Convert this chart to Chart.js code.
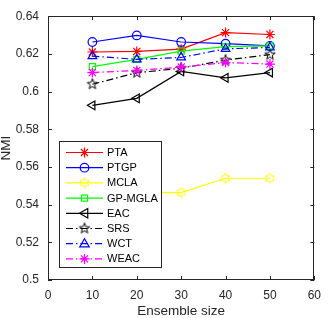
<!DOCTYPE html>
<html>
<head>
<meta charset="utf-8">
<script src="https://cdn.jsdelivr.net/npm/chart.js@4/dist/chart.umd.min.js"></script>
<style>
    html, body { margin: 0; padding: 0; background: #fff; }
</style>
</head>
<body>
<canvas id="myChart" width="329" height="318"></canvas>
<script>
// data
var sizes = [10, 20, 30, 40, 50];
var seriesNames = ["PTA", "PTGP", "MCLA", "GP-MGLA", "EAC", "SRS", "WCT", "WEAC"];
var pta    = [0.6210, 0.6213, 0.6225, 0.6313, 0.6303];
var ptgp   = [0.6263, 0.6298, 0.6263, 0.6254, 0.6242];
var mcla   = [0.5450, 0.5465, 0.5464, 0.5540, 0.5540];
var gpmgla = [0.6132, 0.6171, 0.6215, 0.6239, 0.6243];
var eac    = [0.5927, 0.5964, 0.6107, 0.6073, 0.6101];
var srs    = [0.6039, 0.6100, 0.6124, 0.6167, 0.6196];
var wct    = [0.6188, 0.6171, 0.6181, 0.6227, 0.6234];
var weac   = [0.6101, 0.6112, 0.6130, 0.6154, 0.6146];
var xTicks = [0, 10, 20, 30, 40, 50, 60];
var yTicks = [0.5, 0.52, 0.54, 0.56, 0.58, 0.6, 0.62, 0.64];

var axisColor = "#262626";
var fontFamily = "'Liberation Sans', Arial, sans-serif";
var dashDot = [7, 3, 1.5, 3];

// star shaped markers (pentagram / hexagram) as little canvases
function starImage(points, color, r) {
    var c = document.createElement("canvas");
    var s = Math.ceil(2 * r + 3);
    c.width = s;
    c.height = s;
    var g = c.getContext("2d");
    var inner = points == 5 ? r * 0.42 : r * 0.58;
    g.strokeStyle = color;
    g.lineWidth = 1;
    g.beginPath();
    for (var k = 0; k < 2 * points; k++) {
        var a = -Math.PI / 2 + k * Math.PI / points;
        var rad = (k % 2) ? inner : r;
        var px = s / 2 + rad * Math.cos(a);
        var py = s / 2 + rad * Math.sin(a);
        if (k == 0) g.moveTo(px, py); else g.lineTo(px, py);
    }
    g.closePath();
    g.stroke();
    return c;
}

var hexYellow = starImage(6, "#ffff00", 5);
var pentBlack = starImage(5, "#000000", 5.5);

var styles = [
    { color: "#ff0000", marker: "star", rot: 0, r: 5, dash: [] },
    { color: "#0000ff", marker: "circle", rot: 0, r: 4.3, dash: [] },
    { color: "#ffff00", marker: hexYellow, rot: 0, r: 5, dash: [] },
    { color: "#00ff00", marker: "rect", rot: 0, r: 4.3, dash: [] },
    { color: "#000000", marker: "triangle", rot: -90, r: 5, dash: [] },
    { color: "#000000", marker: pentBlack, rot: 0, r: 5, dash: dashDot },
    { color: "#0000ff", marker: "triangle", rot: 0, r: 5, dash: dashDot },
    { color: "#ff00ff", marker: "star", rot: 0, r: 5, dash: dashDot }
];
var allValues = [pta, ptgp, mcla, gpmgla, eac, srs, wct, weac];

var datasets = [];
for (var i = 0; i < allValues.length; i++) {
    var st = styles[i];
    datasets.push({
        label: seriesNames[i],
        data: sizes.map(function (x, j) { return { x: x, y: allValues[i][j] }; }),
        borderColor: st.color,
        backgroundColor: "rgba(0,0,0,0)",
        borderWidth: 1.2,
        borderDash: st.dash,
        pointStyle: st.marker,
        pointRotation: st.rot,
        pointRadius: st.r,
        pointBorderWidth: 1.2,
        pointBorderColor: st.color,
        pointBackgroundColor: "rgba(0,0,0,0)",
        tension: 0,
        order: allValues.length - i
    });
}

// draws one legend marker
function legendMarker(ctx, st, x, y) {
    ctx.save();
    ctx.strokeStyle = st.color;
    ctx.lineWidth = 1.2;
    ctx.setLineDash([]);
    var r = st.r;
    if (typeof st.marker != "string") {
        ctx.drawImage(st.marker, x - st.marker.width / 2, y - st.marker.height / 2);
    } else if (st.marker == "circle") {
        ctx.beginPath();
        ctx.arc(x, y, r, 0, Math.PI * 2);
        ctx.stroke();
    } else if (st.marker == "rect") {
        var h = r * Math.SQRT1_2;
        ctx.strokeRect(x - h, y - h, 2 * h, 2 * h);
    } else if (st.marker == "star") {
        ctx.beginPath();
        for (var k = 0; k < 4; k++) {
            var a = k * Math.PI / 4;
            ctx.moveTo(x - r * Math.cos(a), y - r * Math.sin(a));
            ctx.lineTo(x + r * Math.cos(a), y + r * Math.sin(a));
        }
        ctx.stroke();
    } else if (st.marker == "triangle") {
        ctx.translate(x, y);
        ctx.rotate(st.rot * Math.PI / 180);
        ctx.beginPath();
        ctx.moveTo(0, -r);
        ctx.lineTo(r * 0.95, r * 0.65);
        ctx.lineTo(-r * 0.95, r * 0.65);
        ctx.closePath();
        ctx.stroke();
    }
    ctx.restore();
}

var boxPlugin = {
    id: "matlabBox",
    afterDraw: function (chart) {
        var ctx = chart.ctx;
        var a = chart.chartArea;
        var xs = chart.scales.x;
        var ys = chart.scales.y;
        ctx.save();
        ctx.strokeStyle = axisColor;
        ctx.lineWidth = 1;
        ctx.strokeRect(Math.round(a.left) + 0.5, Math.round(a.top) + 0.5,
            Math.round(a.right - a.left) - 1, Math.round(a.bottom - a.top) - 1);
        ctx.beginPath();
        yTicks.forEach(function (v) {
            var py = Math.round(ys.getPixelForValue(v)) + 0.5;
            ctx.moveTo(a.left, py); ctx.lineTo(a.left + 4, py);
            ctx.moveTo(a.right, py); ctx.lineTo(a.right - 4, py);
        });
        xTicks.forEach(function (v) {
            var px = Math.round(xs.getPixelForValue(v)) + 0.5;
            ctx.moveTo(px, a.bottom); ctx.lineTo(px, a.bottom - 4);
            ctx.moveTo(px, a.top); ctx.lineTo(px, a.top + 4);
        });
        ctx.stroke();

        // legend
        var lx = 59.5, ly = 141.5, lw = 102, lh = 126;
        ctx.fillStyle = "#ffffff";
        ctx.fillRect(lx, ly, lw, lh);
        ctx.strokeStyle = axisColor;
        ctx.strokeRect(lx, ly, lw, lh);
        ctx.font = "11px " + fontFamily;
        ctx.textBaseline = "middle";
        for (var i = 0; i < seriesNames.length; i++) {
            var st = styles[i];
            var yy = 152.5 + i * 15.2;
            ctx.strokeStyle = st.color;
            ctx.lineWidth = 1.2;
            ctx.setLineDash(st.dash);
            ctx.beginPath();
            ctx.moveTo(66, yy);
            ctx.lineTo(103, yy);
            ctx.stroke();
            ctx.setLineDash([]);
            legendMarker(ctx, st, 84.5, yy);
            ctx.fillStyle = "#000000";
            ctx.fillText(seriesNames[i], 107, yy + 0.5);
        }
        ctx.restore();
    }
};

var fmt = function (v) { return String(Number(v.toFixed(2))); };

var myChart = new Chart(document.getElementById("myChart").getContext("2d"), {
    type: "line",
    data: { datasets: datasets },
    plugins: [boxPlugin],
    options: {
        responsive: false,
        animation: false,
        layout: { padding: { left: 0, top: 5, right: 7, bottom: 0 } },
        plugins: { legend: { display: false }, tooltip: { enabled: false } },
        scales: {
            x: {
                type: "linear",
                min: 0,
                max: 60,
                afterFit: function (s) { s.height = 38; },
                afterBuildTicks: function (s) { s.ticks = xTicks.map(function (v) { return { value: v }; }); },
                grid: { display: false, drawTicks: false },
                border: { display: false },
                ticks: {
                    autoSkip: false,
                    padding: 8,
                    color: axisColor,
                    font: { family: fontFamily, size: 12 },
                    callback: fmt
                },
                title: {
                    display: true,
                    text: "Ensemble size",
                    color: axisColor,
                    padding: { top: 0, bottom: 0 },
                    font: { family: fontFamily, size: 13.5, lineHeight: 1.0 }
                }
            },
            y: {
                type: "linear",
                min: 0.5,
                max: 0.64,
                afterFit: function (s) { s.width = 48; },
                afterBuildTicks: function (s) { s.ticks = yTicks.map(function (v) { return { value: v }; }); },
                grid: { display: false, drawTicks: false },
                border: { display: false },
                ticks: {
                    autoSkip: false,
                    padding: 9,
                    color: axisColor,
                    font: { family: fontFamily, size: 12 },
                    callback: fmt
                },
                title: {
                    display: true,
                    text: "NMI",
                    color: axisColor,
                    padding: { top: 0, bottom: 0 },
                    font: { family: fontFamily, size: 13.5, lineHeight: 1.0 }
                }
            }
        }
    }
});
</script>
</body>
</html>
